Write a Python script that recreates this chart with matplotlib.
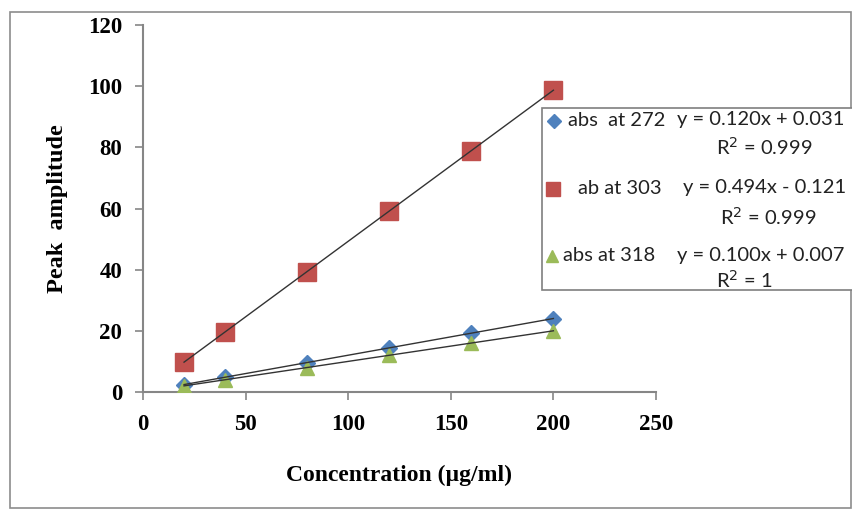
import matplotlib.pyplot as plt
from matplotlib.lines import Line2D
from matplotlib.patches import Rectangle

# concentration (ug/ml) and peak amplitude per wavelength
conc = [20, 40, 80, 120, 160, 200]
abs_272 = [2.4, 4.8, 9.6, 14.4, 19.2, 24.0]
abs_303 = [9.8, 19.6, 39.4, 59.2, 78.9, 98.7]
abs_318 = [2.0, 4.0, 8.0, 12.0, 16.0, 20.0]

names = ['abs  at 272', 'ab at 303', 'abs at 318']
slopes = [0.120, 0.494, 0.100]
intercepts = [0.031, -0.121, 0.007]
eq_text = ['y = 0.120x + 0.031', 'y = 0.494x - 0.121', 'y = 0.100x + 0.007']
r2_text = ['R$^2$ = 0.999', 'R$^2$ = 0.999', 'R$^2$ = 1']

colors = ['#4F81BD', '#C0504D', '#9BBB59']
markers = ['D', 's', '^']
msizes = [8.5, 12.5, 10]

W, H = 853, 511
fig = plt.figure(figsize=(W / 100, H / 100), dpi=100)


def px(x, y):
    return x / W, 1 - y / H


ax = fig.add_axes([143 / W, 1 - 392 / H, (656 - 143) / W, (392 - 25) / H])
axis_gray = '#868686'

for ys, c, m, ms, k, b in zip([abs_272, abs_303, abs_318], colors, markers,
                             msizes, slopes, intercepts):
    ax.plot(conc, ys, linestyle='none', marker=m, markersize=ms,
            markerfacecolor=c, markeredgecolor=c, zorder=3)
    fit = [k * x + b for x in [conc[0], conc[-1]]]
    ax.plot([conc[0], conc[-1]], fit, color='#333333', lw=1.0, zorder=4)

ax.set_xlim(0, 250)
ax.set_ylim(0, 120)
ax.set_xticks(range(0, 251, 50))
ax.set_yticks(range(0, 121, 20))
for s in ['top', 'right']:
    ax.spines[s].set_visible(False)
for s in ['left', 'bottom']:
    ax.spines[s].set_color(axis_gray)
    ax.spines[s].set_linewidth(1.5)
ax.tick_params(direction='out', length=6, width=1.2, color=axis_gray,
               labelsize=16.5)
ax.tick_params(axis='x', pad=10)
ax.tick_params(axis='y', pad=9)
for lbl in ax.get_xticklabels() + ax.get_yticklabels():
    lbl.set_fontfamily('Liberation Serif')
    lbl.set_fontweight('bold')

ax.set_xlabel('Concentration (\u00b5g/ml)', family='Liberation Serif',
              weight='bold', fontsize=17, labelpad=21)
ax.set_ylabel('Peak  amplitude', family='Liberation Serif',
              weight='bold', fontsize=17.5, labelpad=14)

# outer chart frame
fig.add_artist(Rectangle(px(10, 508), 841 / W, 496 / H, transform=fig.transFigure,
                         fill=False, edgecolor='#8c8c8c', lw=1.2))

# legend box with trendline equations
fig.add_artist(Rectangle(px(542, 290), 320 / W, 182 / H, transform=fig.transFigure,
                         facecolor='white', edgecolor='#7f7f7f', lw=1.2, zorder=5))

rows = [120, 188, 255]
r2_rows = [147, 217, 280]
mk_x = [554, 553, 552]
name_x = [568, 578, 563]
eq_x = [677, 683, 677]
r2_x = [716, 720, 716]
for i in range(3):
    mx, my = px(mk_x[i], rows[i] + 1)
    fig.add_artist(Line2D([mx], [my], marker=markers[i], markersize=msizes[i] * 0.85,
                          color=colors[i], linestyle='none', zorder=6))
    tx, ty = px(name_x[i], rows[i])
    fig.text(tx, ty, names[i], family='Lato', fontsize=14.5, va='center',
             color='#222222', zorder=6)
    ex, ey = px(eq_x[i], rows[i])
    fig.text(ex, ey, eq_text[i], family='Lato', fontsize=14.5, va='center',
             color='#222222', zorder=6)
    rx, ry = px(r2_x[i], r2_rows[i])
    fig.text(rx, ry, r2_text[i], family='Lato', fontsize=14.5, va='center',
             color='#222222', zorder=6)

fig.savefig('out.png', dpi=100, facecolor='white')
